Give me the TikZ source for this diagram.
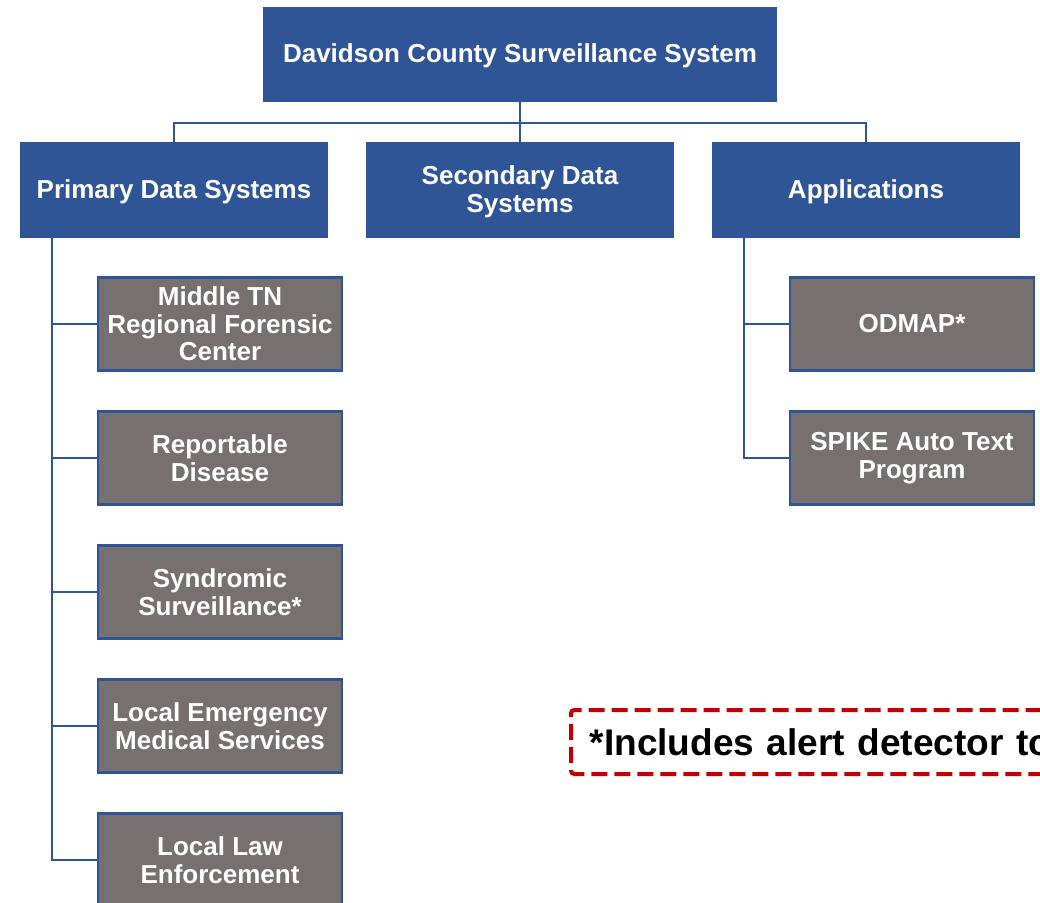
\documentclass[tikz,border=0pt]{standalone}
\usepackage{fontspec}
\setmainfont{Liberation Sans}
\definecolor{cblue}{RGB}{47,85,151}
\definecolor{cgray}{RGB}{118,113,112}
\definecolor{cred}{RGB}{192,0,0}
\newcommand{\lowr}{\rule{0pt}{16.6pt}}
\begin{document}
\begin{tikzpicture}[x=0.75pt,y=-0.75pt,
  bluebox/.style={rectangle, fill=cblue, text=white, align=center, inner sep=0pt,
    minimum width=231pt, minimum height=72pt,
    font=\fontsize{19.5}{21}\selectfont\bfseries},
  graybox/.style={rectangle, fill=cgray, draw=cblue, line width=2pt, text=white, align=center, inner sep=0pt,
    minimum width=183pt, minimum height=69.5pt,
    font=\fontsize{19.5}{20.6}\selectfont\bfseries},
  conn/.style={draw=cblue, line width=2.2pt},
  notebox/.style={rectangle, draw=cred, line width=3pt, dash pattern=on 12pt off 5.25pt,
    rounded corners=2.5pt, anchor=west, minimum height=48pt, inner xsep=14pt, inner ysep=0pt,
    text width=500pt, align=left, font=\fontsize{27.8}{30}\selectfont\bfseries}
]
\useasboundingbox (0,0) rectangle (1040,903);
\clip (0,0) rectangle (1040,903);

\node[bluebox, minimum width=385.5pt, minimum height=71pt] (top) at (520,54.5) {\lowr Davidson County Surveillance System};
\node[bluebox] (prim) at (174,190) {\lowr Primary Data Systems};
\node[bluebox] (sec) at (520,190) {\lowr Secondary Data\\Systems};
\node[bluebox] (apps) at (866,190) {\lowr Applications};

\node[graybox] (c1) at (220,324) {Middle TN\\Regional Forensic\\Center};
\node[graybox] (c2) at (220,458) {Reportable\\Disease};
\node[graybox] (c3) at (220,592) {Syndromic\\Surveillance*};
\node[graybox] (c4) at (220,726) {Local Emergency\\Medical Services};
\node[graybox] (c5) at (220,860) {Local Law\\Enforcement};

\node[graybox] (a1) at (912,324) {ODMAP*};
\node[graybox] (a2) at (912,458) {SPIKE Auto Text\\Program};

\node[notebox] (note) at (569,742) {*Includes alert detector to};

\coordinate (j) at (520,123);
\coordinate (spineL) at (52,238);
\coordinate (spineA) at (744,238);

\draw[conn] (top.south) -- (j);
\draw[conn] (prim.north) |- (j) -| (apps.north);
\draw[conn] (sec.north) -- (j);

\draw[conn] (spineL) |- (c5.west);
\draw[conn] (c1.west) -- (c1.west -| spineL);
\draw[conn] (c2.west) -- (c2.west -| spineL);
\draw[conn] (c3.west) -- (c3.west -| spineL);
\draw[conn] (c4.west) -- (c4.west -| spineL);

\draw[conn] (spineA) |- (a2.west);
\draw[conn] (a1.west) -- (a1.west -| spineA);
\end{tikzpicture}
\end{document}
